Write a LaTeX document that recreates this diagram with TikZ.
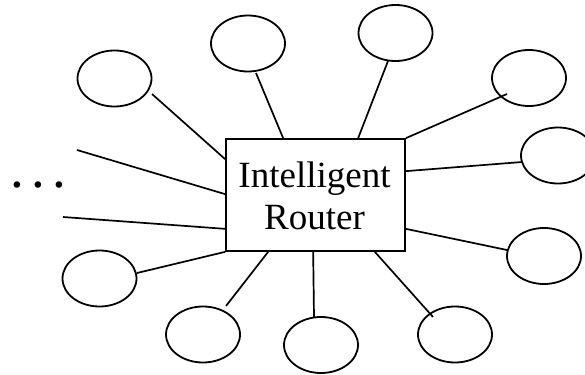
\documentclass[tikz,border=0pt]{standalone}
\usepackage{fontspec}
\setmainfont{Liberation Serif}
\usetikzlibrary{shapes.geometric,calc}
\begin{document}
\begin{tikzpicture}[x=1pt,y=-1pt,
  client/.style={draw,ellipse,minimum width=74pt,minimum height=56pt,inner sep=0pt,line width=1.8pt},
  hub/.style={draw,rectangle,minimum width=179pt,minimum height=112pt,inner sep=0pt,line width=1.7pt},
  link/.style={line width=1.7pt}]
\useasboundingbox (0,0) rectangle (585,374);

% central router box
\node[hub] (router) at (315.5,195) {};
\node[align=center,font=\fontsize{37}{42}\selectfont] (label) at (314.5,195.5) {Intelligent\\Router};

% surrounding clients
\node[client] (A) at (114.5,78.5) {};
\node[client] (B) at (248,43.5) {};
\node[client] (C) at (395.5,33) {};
\node[client] (D) at (529,78) {};
\node[client] (E) at (558,155.5) {};
\node[client] (H) at (544,256) {};
\node[client] (I) at (455,334.5) {};
\node[client] (J) at (321,345) {};
\node[client] (G) at (203,334.5) {};
\node[client] (F) at (99.5,278.5) {};

% open-ended links on the left
\coordinate (L1) at (77,150);
\coordinate (L2) at (63,217);

% links from clients to the router
\draw[link] ($(A)+(37.5,15.5)$) -- ($(router.north west)+(0,21)$);
\draw[link] ($(B)+(8,29.5)$) -- ($(router.north west)+(58,0)$);
\draw[link] ($(C)+(-7.5,28)$) -- ($(router.north west)+(133,0)$);
\draw[link] ($(D)+(-22,16)$) -- (router.north east);
\draw[link] ($(E)+(-36,6.5)$) -- ($(router.north east)+(0,33)$);
\draw[link] ($(H)+(-37,-6)$) -- ($(router.south east)+(0,-23)$);
\draw[link] ($(I)+(-22,-17.5)$) -- ($(router.south east)+(-31,0)$);
\draw[link] ($(J)+(-7,-28)$) -- ($(router.south west)+(88,0)$);
\draw[link] ($(G)+(23,-28.5)$) -- ($(router.south west)+(43,0)$);
\draw[link] ($(F)+(37.5,-5.5)$) -- (router.south west);
\draw[link] (L1) -- ($(router.north west)+(0,56)$);
\draw[link] (L2) -- ($(router.south west)+(0,-23)$);

% ellipsis marking further links
\node[font=\fontsize{55}{60}\selectfont,inner sep=0pt,anchor=base] (more) at (38.5,187) {.\kern7.2pt.\kern7.2pt.};
\end{tikzpicture}
\end{document}
